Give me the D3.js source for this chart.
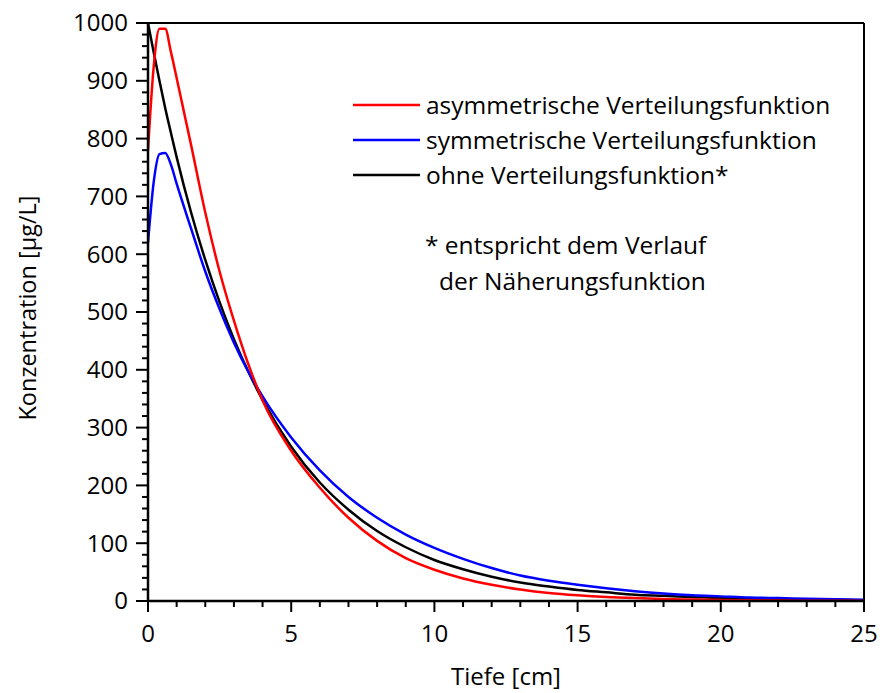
<!DOCTYPE html>
<html><head><meta charset="utf-8">
<script src="https://cdn.jsdelivr.net/npm/d3@7/dist/d3.min.js"></script>
<style>
html,body{margin:0;padding:0;background:#fff;}
text{font-family:"Open Sans","Noto Sans",sans-serif;fill:#000;}
</style></head>
<body>
<svg id="chart" width="882" height="693"></svg>
<script>
const depth = [0,0.2,0.4,0.6,0.8,1.0,1.5,2,2.5,3,3.5,4,5,6,7,8,9,10,11,12,13,14,15,16,17,18,19,20,21,22,23,24,25];
const asymValues = [780,925,990,990,950,905,790,672,570,485,410,347,260,196,144,104,74,54,39,28,20,14,10,7,5,3.5,2.5,1.8,1.2,0.8,0.5,0.3,0.2];
const symValues = [620,725,773,775,755,722,645,570,505,447,397,354,283,226,180,144,115,92,73,57,44,35,28,22,17,13,10,8,6,5,4,3,2];
const noneValues = [1000,949,900,853,810,768,673,590,517,453,397,348,267,205,158,121,93,71,55,42,32,25,19,15,11,9,7,5,4,3,2,2,1];
const seriesNames = ["asymmetrische Verteilungsfunktion","symmetrische Verteilungsfunktion","ohne Verteilungsfunktion*"];
const seriesColors = ["#ff0000","#0000ff","#000000"];
const xTicks = [0,5,10,15,20,25];
const yTicks = [0,100,200,300,400,500,600,700,800,900,1000];
const xLabel = "Tiefe [cm]";
const yLabel = "Konzentration [µg/L]";
const noteLines = ["* entspricht dem Verlauf","der Näherungsfunktion"];

const svg = d3.select("#chart");
const L = 148, R = 864, T = 23, B = 601;
const x = d3.scaleLinear().domain([0,25]).range([L,R]);
const y = d3.scaleLinear().domain([0,1000]).range([B,T]);
const fs = 24, fsLeg = 24.5;

svg.append("clipPath").attr("id","clip").append("rect")
  .attr("x",L).attr("y",T-2).attr("width",R-L).attr("height",B-T+2);

const allSeries = [asymValues, symValues, noneValues];
const line = d3.line().x((d,i)=>x(depth[i])).y(d=>y(d)).curve(d3.curveMonotoneX);
[2,1,0].forEach(k=>{
  svg.append("path").datum(allSeries[k]).attr("d",line)
    .attr("fill","none").attr("stroke",seriesColors[k]).attr("stroke-width",2.5)
    .attr("clip-path","url(#clip)");
});

svg.append("line").attr("x1",L).attr("x2",R).attr("y1",T).attr("y2",T).attr("stroke","#000").attr("stroke-width",2);
svg.append("line").attr("x1",R).attr("x2",R).attr("y1",T).attr("y2",B).attr("stroke","#000").attr("stroke-width",2);

const xMinor = d3.range(0,25.01,1).filter(v=>v%5!==0);
const yMinor = d3.range(0,1000.1,20).filter(v=>v%100!==0);
const gx = svg.append("g");
gx.selectAll(".xmin").data(xMinor).join("line")
  .attr("x1",d=>x(d)).attr("x2",d=>x(d)).attr("y1",B).attr("y2",B+6)
  .attr("stroke","#000").attr("stroke-width",2);
gx.selectAll(".xmaj").data(xTicks).join("line")
  .attr("x1",d=>x(d)).attr("x2",d=>x(d)).attr("y1",B).attr("y2",B+11)
  .attr("stroke","#000").attr("stroke-width",2);
gx.selectAll(".xlab").data(xTicks).join("text")
  .attr("x",d=>x(d)).attr("y",B+41).attr("text-anchor","middle")
  .attr("font-size",fs).text(d=>d);

const gy = svg.append("g");
gy.selectAll(".ymin").data(yMinor).join("line")
  .attr("x1",L-6).attr("x2",L).attr("y1",d=>y(d)).attr("y2",d=>y(d))
  .attr("stroke","#000").attr("stroke-width",2);
gy.selectAll(".ymaj").data(yTicks).join("line")
  .attr("x1",L-12).attr("x2",L).attr("y1",d=>y(d)).attr("y2",d=>y(d))
  .attr("stroke","#000").attr("stroke-width",2);
gy.selectAll(".ylab").data(yTicks).join("text")
  .attr("x",L-20).attr("y",d=>y(d)).attr("dy","0.35em").attr("text-anchor","end")
  .attr("font-size",fs).text(d=>d);

svg.append("line").attr("x1",L).attr("x2",L).attr("y1",T-1).attr("y2",B+1).attr("stroke","#000").attr("stroke-width",2.5);
svg.append("line").attr("x1",L-1).attr("x2",R+1).attr("y1",B).attr("y2",B).attr("stroke","#000").attr("stroke-width",2.5);

svg.append("text").attr("x",506).attr("y",677).attr("dy","0.35em").attr("text-anchor","middle").attr("font-size",fs).text(xLabel);
svg.append("text").attr("transform","translate(28,308) rotate(-90)").attr("dy","0.35em").attr("text-anchor","middle").attr("font-size",23.5).text(yLabel);

const lg = svg.append("g");
seriesNames.forEach((n,i)=>{
  const yy = 105 + i*35;
  lg.append("line").attr("x1",353).attr("x2",420).attr("y1",yy).attr("y2",yy).attr("stroke",seriesColors[i]).attr("stroke-width",2.5);
  lg.append("text").attr("x",426).attr("y",yy).attr("dy","0.35em").attr("font-size",fsLeg).text(n);
});
lg.append("text").attr("x",425).attr("y",245).attr("dy","0.35em").attr("font-size",fsLeg).text(noteLines[0]);
lg.append("text").attr("x",439).attr("y",281).attr("dy","0.35em").attr("font-size",fsLeg).text(noteLines[1]);
</script>
</body></html>
